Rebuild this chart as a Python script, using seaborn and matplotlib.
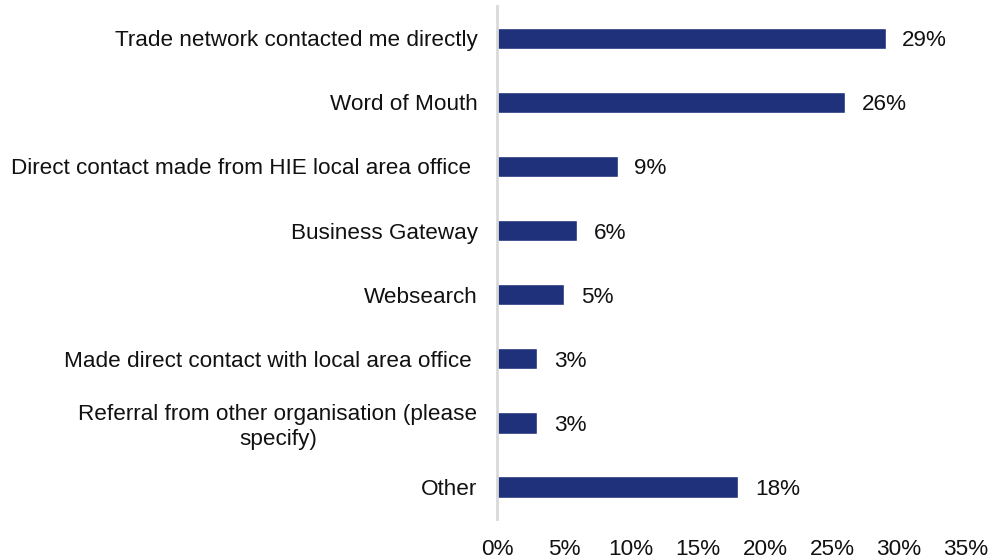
import matplotlib
matplotlib.use("Agg")
import matplotlib.pyplot as plt
import seaborn as sns
import pandas as pd

# Survey responses: how respondents first heard about the service
categories = [
    "Trade network contacted me directly",
    "Word of Mouth",
    "Direct contact made from HIE local area office ",
    "Business Gateway",
    "Websearch",
    "Made direct contact with local area office ",
    "Referral from other organisation (please\nspecify)",
    "Other",
]
shares = [29, 26, 9, 6, 5, 3, 3, 18]
tick_values = [0, 5, 10, 15, 20, 25, 30, 35]
tick_labels = [f"{v}%" for v in tick_values]

df = pd.DataFrame({"source": categories, "share": shares})

sns.set_theme(style="white")
plt.rcParams["font.family"] = ["Liberation Sans", "DejaVu Sans"]

fig = plt.figure(figsize=(9.96, 5.6), dpi=100)
ax = fig.add_axes([0.499, 0.073, 0.471, 0.916])

bar_color = "#1f317a"
sns.barplot(data=df, y="source", x="share", orient="h", order=categories,
            color=bar_color, width=0.33, saturation=1, ax=ax)

ax.set_xlim(0, 35)
ax.set_ylim(len(categories) - 0.5, -0.5)
ax.set_xticks(tick_values)
ax.set_xticklabels(tick_labels)
ax.set_xlabel("")
ax.set_ylabel("")

fs = 16.2
ax.tick_params(axis="x", length=0, pad=14, labelsize=fs, labelcolor="#111111")
ax.tick_params(axis="y", length=0, pad=14, labelsize=fs, labelcolor="#111111")
for lbl in ax.get_yticklabels():
    lbl.set_multialignment("center")

for side in ["top", "right", "bottom"]:
    ax.spines[side].set_visible(False)
ax.spines["left"].set_color("#d9d9d9")
ax.spines["left"].set_linewidth(2)

for container in ax.containers:
    texts = ax.bar_label(container, labels=[f"{v}%" for v in shares], padding=12,
                         fontsize=fs, color="#111111")
    for t in texts:
        t.set_va("center_baseline")

fig.savefig("out.png", dpi=100)
